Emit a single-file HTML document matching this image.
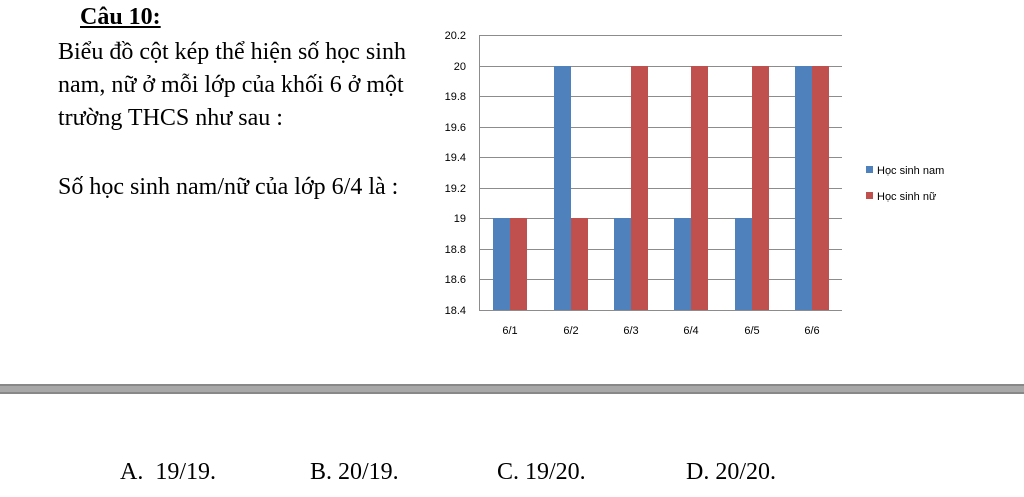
<!DOCTYPE html>
<html><head><meta charset="utf-8"><style>
body{margin:0;width:1024px;height:497px;background:#fff;position:relative;overflow:hidden;font-family:"Liberation Serif",serif;color:#000}
.t{position:absolute;font-size:24px;white-space:nowrap;line-height:28px}
</style></head><body>
<div class="t" style="left:80px;top:3px;font-weight:bold;text-decoration:underline">Câu 10:</div>
<div class="t" style="left:58px;top:38px">Biểu đồ cột kép thể hiện số học sinh</div>
<div class="t" style="left:58px;top:71px">nam, nữ ở mỗi lớp của khối 6 ở một</div>
<div class="t" style="left:58px;top:104px">trường THCS như sau :</div>
<div class="t" style="left:58px;top:173px">Số học sinh nam/nữ của lớp 6/4 là :</div>
<svg style="position:absolute;left:0;top:0" width="1024" height="497">
<g font-family="Liberation Sans, sans-serif" font-size="11" fill="#000">
<g stroke="#8c8c8c" stroke-width="1">
<line x1="479" x2="842" y1="35.5" y2="35.5"/><line x1="479" x2="842" y1="66.5" y2="66.5"/>
<line x1="479" x2="842" y1="96.5" y2="96.5"/><line x1="479" x2="842" y1="127.5" y2="127.5"/>
<line x1="479" x2="842" y1="157.5" y2="157.5"/><line x1="479" x2="842" y1="188.5" y2="188.5"/>
<line x1="479" x2="842" y1="218.5" y2="218.5"/><line x1="479" x2="842" y1="249.5" y2="249.5"/>
<line x1="479" x2="842" y1="279.5" y2="279.5"/><line x1="479" x2="842" y1="310.5" y2="310.5"/>
<line x1="479.5" x2="479.5" y1="35" y2="310"/>
</g>
<g text-anchor="end">
<text x="466" y="39">20.2</text><text x="466" y="70">20</text><text x="466" y="100">19.8</text>
<text x="466" y="131">19.6</text><text x="466" y="161">19.4</text><text x="466" y="192">19.2</text>
<text x="466" y="222">19</text><text x="466" y="253">18.8</text><text x="466" y="283">18.6</text>
<text x="466" y="314">18.4</text>
</g>
<g fill="#4f81bd">
<rect x="493" y="218" width="17" height="92"/><rect x="554" y="66" width="17" height="244"/>
<rect x="614" y="218" width="17" height="92"/><rect x="674" y="218" width="17" height="92"/>
<rect x="735" y="218" width="17" height="92"/><rect x="795" y="66" width="17" height="244"/>
</g>
<g fill="#c0504d">
<rect x="510" y="218" width="17" height="92"/><rect x="571" y="218" width="17" height="92"/>
<rect x="631" y="66" width="17" height="244"/><rect x="691" y="66" width="17" height="244"/>
<rect x="752" y="66" width="17" height="244"/><rect x="812" y="66" width="17" height="244"/>
</g>
<g text-anchor="middle">
<text x="510" y="334">6/1</text><text x="571" y="334">6/2</text><text x="631" y="334">6/3</text>
<text x="691" y="334">6/4</text><text x="752" y="334">6/5</text><text x="812" y="334">6/6</text>
</g>
<rect x="866" y="166" width="7" height="7" fill="#4f81bd"/><text x="877" y="174">Học sinh nam</text>
<rect x="866" y="192" width="7" height="7" fill="#c0504d"/><text x="877" y="200">Học sinh nữ</text>
</g>
<rect x="0" y="384" width="1024" height="10" fill="#a8a8a8"/>
<rect x="0" y="384" width="1024" height="2" fill="#888"/>
<rect x="0" y="392" width="1024" height="2" fill="#888"/>
</svg>
<div class="t" style="left:120px;top:458px">A.&nbsp; 19/19.</div>
<div class="t" style="left:310px;top:458px">B. 20/19.</div>
<div class="t" style="left:497px;top:458px">C. 19/20.</div>
<div class="t" style="left:686px;top:458px">D. 20/20.</div>
</body></html>
